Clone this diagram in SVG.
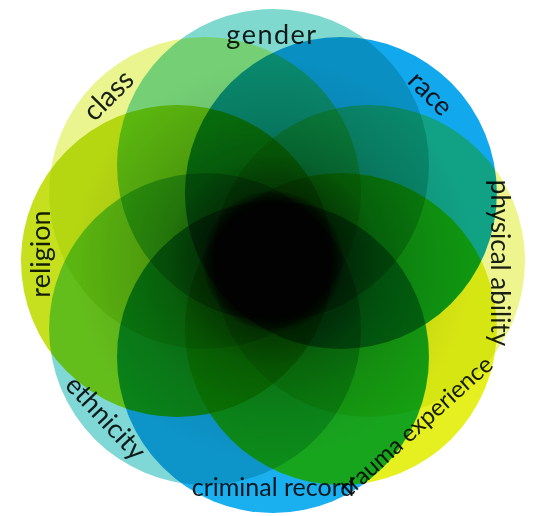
<svg xmlns="http://www.w3.org/2000/svg" width="533" height="516" viewBox="0 0 533 516">
<style>
  .c { mix-blend-mode: multiply; }
  .lbl { font-family: Lato, "Liberation Sans", sans-serif; font-size: 26px; fill: #1a2020; text-anchor: middle; mix-blend-mode: multiply; }
</style>
<defs>
  <radialGradient id="g-gender" gradientUnits="userSpaceOnUse" cx="273" cy="261" r="252">
    <stop offset="0.22" stop-color="#4c827c"/><stop offset="0.28" stop-color="#6dbbb2"/><stop offset="0.42" stop-color="#76cac1"/><stop offset="0.58" stop-color="#7bd1c8"/><stop offset="0.8" stop-color="#7fd9cf"/>
  </radialGradient>
  <radialGradient id="g-race" gradientUnits="userSpaceOnUse" cx="273" cy="261" r="252">
    <stop offset="0.22" stop-color="#0b658f"/><stop offset="0.28" stop-color="#0f90cd"/><stop offset="0.42" stop-color="#119cdd"/><stop offset="0.58" stop-color="#11a2e6"/><stop offset="0.8" stop-color="#12a8ee"/>
  </radialGradient>
  <radialGradient id="g-physical" gradientUnits="userSpaceOnUse" cx="273" cy="261" r="252">
    <stop offset="0.22" stop-color="#8f9355"/><stop offset="0.28" stop-color="#cdd37a"/><stop offset="0.42" stop-color="#dde484"/><stop offset="0.58" stop-color="#e6ec89"/><stop offset="0.8" stop-color="#eef58e"/>
  </radialGradient>
  <radialGradient id="g-trauma" gradientUnits="userSpaceOnUse" cx="273" cy="261" r="252">
    <stop offset="0.22" stop-color="#8a9013"/><stop offset="0.28" stop-color="#c6ce1c"/><stop offset="0.42" stop-color="#d6df1e"/><stop offset="0.58" stop-color="#dee81f"/><stop offset="0.8" stop-color="#e6f020"/>
  </radialGradient>
  <radialGradient id="g-criminal" gradientUnits="userSpaceOnUse" cx="273" cy="261" r="252">
    <stop offset="0.22" stop-color="#106a90"/><stop offset="0.28" stop-color="#1697ce"/><stop offset="0.42" stop-color="#18a4df"/><stop offset="0.58" stop-color="#19aae8"/><stop offset="0.8" stop-color="#1ab0f0"/>
  </radialGradient>
  <radialGradient id="g-ethnicity" gradientUnits="userSpaceOnUse" cx="273" cy="261" r="252">
    <stop offset="0.22" stop-color="#4d8280"/><stop offset="0.28" stop-color="#6ebab8"/><stop offset="0.42" stop-color="#77c9c7"/><stop offset="0.58" stop-color="#7cd0cf"/><stop offset="0.8" stop-color="#80d8d6"/>
  </radialGradient>
  <radialGradient id="g-religion" gradientUnits="userSpaceOnUse" cx="273" cy="261" r="252">
    <stop offset="0.22" stop-color="#778613"/><stop offset="0.28" stop-color="#aac11c"/><stop offset="0.42" stop-color="#b8d01e"/><stop offset="0.58" stop-color="#bfd81f"/><stop offset="0.8" stop-color="#c6e020"/>
  </radialGradient>
  <radialGradient id="g-class" gradientUnits="userSpaceOnUse" cx="273" cy="261" r="252">
    <stop offset="0.22" stop-color="#8c9356"/><stop offset="0.28" stop-color="#c9d37c"/><stop offset="0.42" stop-color="#dae486"/><stop offset="0.58" stop-color="#e2ec8b"/><stop offset="0.8" stop-color="#eaf590"/>
  </radialGradient>
</defs>
<rect width="533" height="516" fill="#ffffff"/>
<g id="nodes" style="isolation:isolate">
  <g id="node-gender"><circle class="c" cx="273" cy="165" r="156" fill="url(#g-gender)"/></g>
  <g id="node-race"><circle class="c" cx="340.9" cy="193.1" r="156" fill="url(#g-race)"/></g>
  <g id="node-physical-ability"><circle class="c" cx="369" cy="261" r="156" fill="url(#g-physical)"/></g>
  <g id="node-trauma-experience"><circle class="c" cx="340.9" cy="328.9" r="156" fill="url(#g-trauma)"/></g>
  <g id="node-criminal-record"><circle class="c" cx="273" cy="357" r="156" fill="url(#g-criminal)"/></g>
  <g id="node-ethnicity"><circle class="c" cx="205.1" cy="328.9" r="156" fill="url(#g-ethnicity)"/></g>
  <g id="node-religion"><circle class="c" cx="177" cy="261" r="156" fill="url(#g-religion)"/></g>
  <g id="node-class"><circle class="c" cx="205.1" cy="193.1" r="156" fill="url(#g-class)"/></g>
</g>
<g id="labels">
  <text class="lbl" transform="translate(272,44)" style="font-size:27px;letter-spacing:1.5px">gender</text>
  <text class="lbl" transform="translate(424,100) rotate(45)" style="font-size:27px">race</text>
  <text class="lbl" transform="translate(491,263) rotate(90)">physical ability</text>
  <text class="lbl" transform="translate(422,432) rotate(-42)" style="font-size:24px">trauma experience</text>
  <text class="lbl" transform="translate(273,496)" style="font-size:25px">criminal record</text>
  <text class="lbl" transform="translate(99,424) rotate(47)" style="font-size:27px">ethnicity</text>
  <text class="lbl" transform="translate(50,254) rotate(-90)" style="font-size:27px">religion</text>
  <text class="lbl" transform="translate(115,102) rotate(-45)" style="font-size:28px">class</text>
</g>
</svg>
